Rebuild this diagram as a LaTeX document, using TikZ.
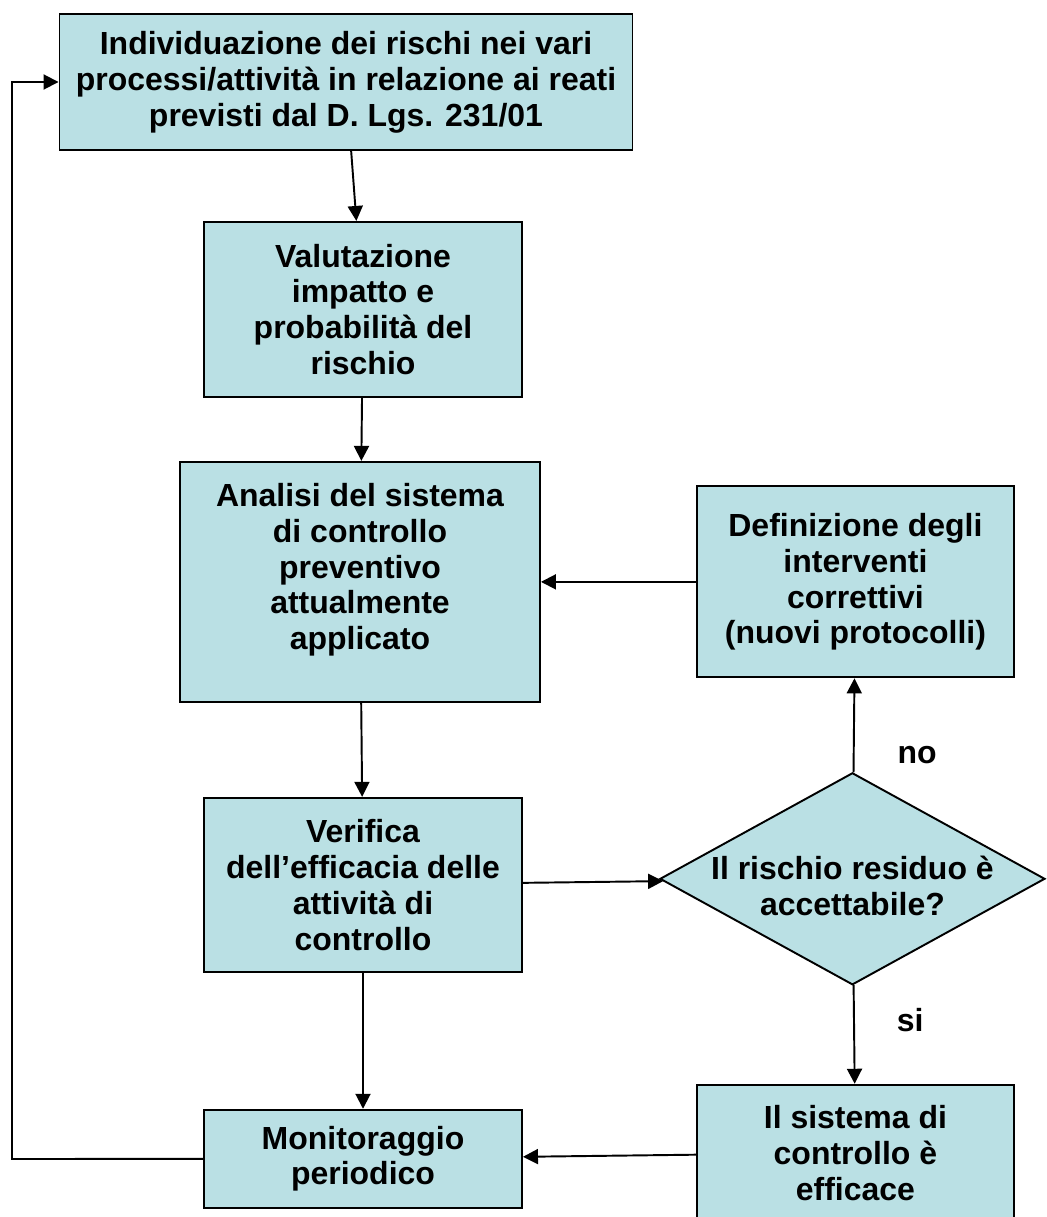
\documentclass[tikz,border=0pt]{standalone}
\usepackage{fontspec}
\setmainfont{Liberation Sans}
\usetikzlibrary{positioning,shapes.geometric,arrows.meta}
\definecolor{boxfill}{RGB}{186,224,228}

\begin{document}
\begin{tikzpicture}[thick, line width=1.1pt, >={Triangle[length=0.3cm,width=0.3cm]},
  main/.style = {draw, fill=boxfill, align=center, font=\bfseries\fontsize{18.2}{20.4}\selectfont},
  choice/.style = {main, diamond, aspect=1.816, inner sep=0pt, minimum width=7.7cm, minimum height=4.24cm},
  lbl/.style = {inner sep=0pt, font=\bfseries\fontsize{18.2}{20.4}\selectfont}]
\useasboundingbox (0,0) rectangle (20.94,-24.34);
\node[main, minimum width=11.46cm, minimum height=2.72cm] (1) at (6.92,-1.64) {Individuazione dei rischi nei vari\\processi/attività in relazione ai reati\\previsti dal D. Lgs. 231/01};
\node[main, minimum width=6.36cm, minimum height=3.5cm] (2) [below=1.40cm of 1, xshift=0.34cm] {Valutazione\\impatto e\\probabilità del\\rischio};
\node[main, minimum width=7.2cm, minimum height=4.8cm] (3) [below=1.26cm of 2, xshift=-0.06cm] {Analisi del sistema\\di controllo\\preventivo\\attualmente\\applicato\\[-0.1cm]};
\node[main, minimum width=6.34cm, minimum height=3.82cm] (4) [right=3.1cm of 3] {Definizione degli\\interventi\\correttivi\\(nuovi protocolli)};
\node[main, minimum width=6.36cm, minimum height=3.48cm] (5) [below=1.88cm of 3, xshift=0.06cm] {Verifica\\dell’efficacia delle\\attività di\\controllo};
\node[choice] (6) [right=2.72cm of 5, yshift=0.12cm] {\raisebox{-0.38cm}[0pt][0pt]{\begin{tabular}{@{}c@{}}Il rischio residuo è\\accettabile?\end{tabular}}};
\node[main, minimum width=6.36cm, minimum height=1.96cm] (7) [below=2.72cm of 5] {Monitoraggio\\periodico};
\node[main, minimum width=6.34cm, minimum height=2.72cm] (8) [right=3.46cm of 7, yshift=0.12cm] {Il sistema di\\controllo è\\efficace};
\coordinate (back) at (0.24,-23.18);
\draw[->] (1) -- (2);
\draw[->] (2) -- (3);
\draw[->] (3) -- (5);
\draw[->] (5) -- (6);
\draw[->] (6) -- node[lbl, pos=0.18, right=0.86cm] {no} (4);
\draw[->] (4) -- (3);
\draw[->] (6) -- node[lbl, pos=0.35, right=0.84cm] {si} (8);
\draw[->] (5) -- (7);
\draw[->] (8) -- (7);
\draw[->] (7) -- (back) |- (1);
\end{tikzpicture}
\end{document}
